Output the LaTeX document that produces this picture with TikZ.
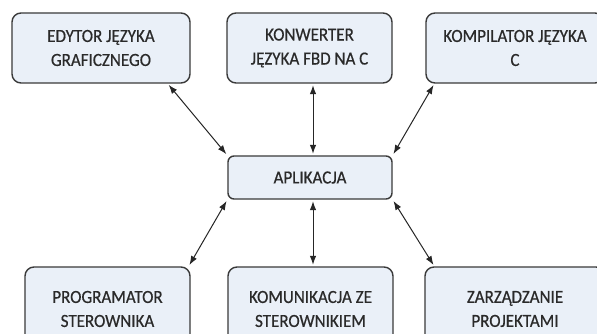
\documentclass[tikz,border=0pt]{standalone}
\usepackage{fontspec}
\setmainfont{Carlito}[FakeStretch=0.92,FakeBold=0.6]
\usetikzlibrary{arrows.meta,calc}
\definecolor{boxfill}{HTML}{EAF0F8}
\definecolor{boxline}{HTML}{3A3A3A}
\definecolor{txt}{HTML}{2A2A2A}
\begin{document}
\begin{tikzpicture}[x=1pt,y=-1pt,
  box/.style={draw=boxline,line width=1.4pt,fill=boxfill,rounded corners=9pt,
    align=center,text=txt,inner sep=0pt,
    font=\fontsize{18.5}{24}\selectfont},
  link/.style={line width=1pt,draw=black!85,{Latex[length=9pt,width=6.5pt]}-{Latex[length=9pt,width=6.5pt]},shorten <=1.5pt,shorten >=1.5pt}]
\useasboundingbox (0,0) rectangle (597,334);
\clip (0,0) rectangle (597,334);
\fill[white] (0,0) rectangle (597,334);
\node[box,minimum width=178pt,minimum height=70pt] (tl) at (101,48) {EDYTOR JĘZYKA\\GRAFICZNEGO};
\node[box,minimum width=165pt,minimum height=70pt] (tm) at (309.5,48) {KONWERTER\\JĘZYKA FBD NA C};
\node[box,minimum width=178pt,minimum height=70pt] (tr) at (515,48) {KOMPILATOR JĘZYKA\\C};
\node[box,minimum width=164pt,minimum height=43pt,rounded corners=6pt] (app) at (310,177.5) {APLIKACJA};
\node[box,minimum width=165pt,minimum height=84pt] (bl) at (107.5,309) {PROGRAMATOR\\STEROWNIKA};
\node[box,minimum width=165pt,minimum height=84pt] (bm) at (310.5,309) {KOMUNIKACJA ZE\\STEROWNIKIEM};
\node[box,minimum width=180pt,minimum height=84pt] (br) at (515,309) {ZARZĄDZANIE\\PROJEKTAMI};
\draw[link] ([xshift=-23pt]tl.south east) -- (app.north west);
\draw[link] ([xshift=3.5pt]tm.south) -- ([xshift=3pt]app.north);
\draw[link] ([xshift=9pt]tr.south west) -- (app.north east);
\draw[link] (app.south west) -- ([xshift=-2pt]bl.north east);
\draw[link] ([xshift=3pt]app.south) -- ([xshift=2.5pt]bm.north);
\draw[link] (app.south east) -- ([xshift=10pt]br.north west);
\end{tikzpicture}
\end{document}
